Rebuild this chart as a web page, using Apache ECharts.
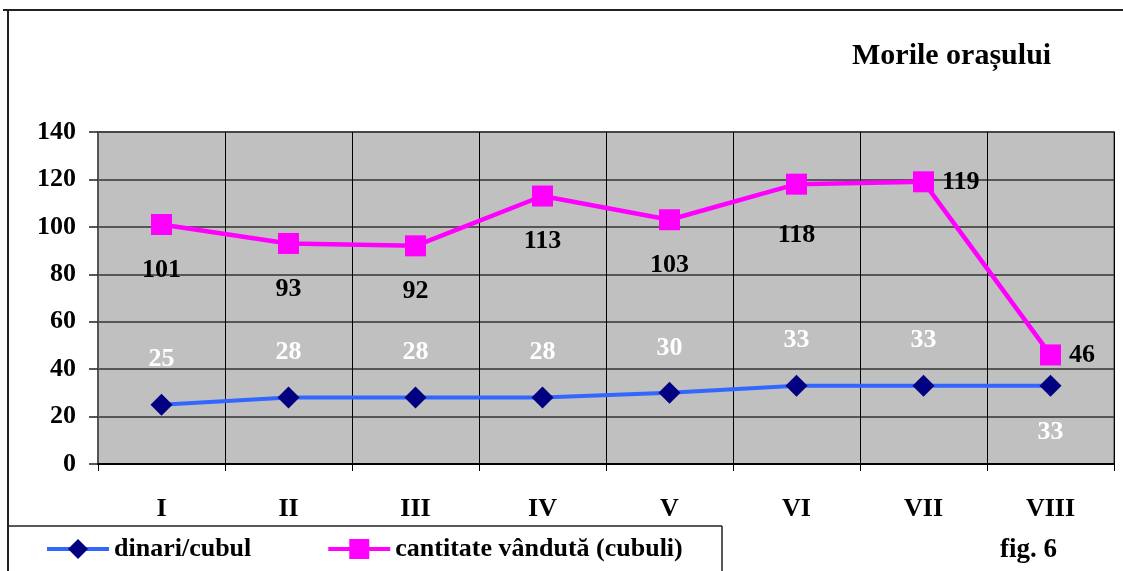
<!DOCTYPE html>
<html>
<head>
<meta charset="utf-8">
<script src="https://cdn.jsdelivr.net/npm/echarts@6/dist/echarts.min.js"></script>
<style>
html,body{margin:0;padding:0;background:#fff;}
#chart{width:1123px;height:571px;}
</style>
</head>
<body>
<div id="chart"></div>
<script>
const categories = ['I', 'II', 'III', 'IV', 'V', 'VI', 'VII', 'VIII'];
const dinariCubul = [25, 28, 28, 28, 30, 33, 33, 33];
const cantitateVanduta = [101, 93, 92, 113, 103, 118, 119, 46];
const yTicks = [0, 20, 40, 60, 80, 100, 120, 140];
const seriesNames = ['dinari/cubul', 'cantitate vândută (cubuli)'];
const titleText = 'Morile orașului';
const figText = 'fig. 6';

const FONT = "'Liberation Serif', 'Times New Roman', serif";

const blueData = dinariCubul.map((v, i) => ({
  value: v,
  label: i === dinariCubul.length - 1
    ? { position: 'bottom', distance: 23 }
    : { position: 'top', distance: 21 }
}));
const pinkData = cantitateVanduta.map((v, i) => ({
  value: v,
  label: i >= cantitateVanduta.length - 2
    ? { position: 'right', distance: 8 }
    : { position: 'bottom', distance: i === 5 ? 28 : 22 }
}));

const chart = echarts.init(document.getElementById('chart'), null, { renderer: 'canvas' });
chart.setOption({
  backgroundColor: '#ffffff',
  animation: false,
  title: {
    text: titleText,
    left: 852,
    top: 41,
    padding: 0,
    textStyle: { fontFamily: FONT, fontWeight: 'bold', fontSize: 30, color: '#000' }
  },
  legend: {
    left: 45,
    top: 536,
    padding: 0,
    itemWidth: 62,
    itemHeight: 25,
    itemGap: 75,
    data: seriesNames,
    lineStyle: { width: 4 },
    textStyle: { fontFamily: FONT, fontWeight: 'bold', fontSize: 26, color: '#000' }
  },
  grid: {
    left: 98, right: 9, top: 132, bottom: 107,
    show: true,
    backgroundColor: '#C0C0C0',
    borderColor: '#808080',
    borderWidth: 2
  },
  xAxis: {
    type: 'category',
    data: categories,
    boundaryGap: true,
    axisLine: { show: true, lineStyle: { color: '#000', width: 2 } },
    axisTick: { show: true, length: 7, lineStyle: { color: '#000', width: 1 } },
    splitLine: { show: true, lineStyle: { color: '#000', width: 1 } },
    axisLabel: { margin: 32, fontFamily: FONT, fontWeight: 'bold', fontSize: 26, color: '#000' }
  },
  yAxis: {
    type: 'value',
    min: yTicks[0],
    max: yTicks[yTicks.length - 1],
    interval: yTicks[1] - yTicks[0],
    axisLine: { show: true, lineStyle: { color: '#555', width: 2 } },
    axisTick: { show: true, length: 9, lineStyle: { color: '#222', width: 1.5 } },
    splitLine: { show: true, lineStyle: { color: '#333', width: 1.5 } },
    axisLabel: { margin: 22, fontFamily: FONT, fontWeight: 'bold', fontSize: 26, color: '#000' }
  },
  series: [
    {
      name: seriesNames[0],
      type: 'line',
      data: blueData,
      symbol: 'diamond',
      symbolSize: 22,
      lineStyle: { color: '#3366FF', width: 4 },
      itemStyle: { color: '#000080' },
      label: { show: true, fontFamily: FONT, fontWeight: 'bold', fontSize: 26, color: '#fff' },
      z: 3
    },
    {
      name: seriesNames[1],
      type: 'line',
      data: pinkData,
      symbol: 'rect',
      symbolSize: 21,
      lineStyle: { color: '#FF00FF', width: 4.5 },
      itemStyle: { color: '#FF00FF' },
      label: { show: true, fontFamily: FONT, fontWeight: 'bold', fontSize: 26, color: '#000' },
      z: 3
    }
  ],
  graphic: [
    { type: 'line', shape: { x1: 3, y1: 10, x2: 1123, y2: 10 }, style: { stroke: '#222', lineWidth: 2 } },
    { type: 'line', shape: { x1: 8, y1: 10, x2: 8, y2: 571 }, style: { stroke: '#222', lineWidth: 2 } },
    { type: 'line', shape: { x1: 8, y1: 526, x2: 722, y2: 526 }, style: { stroke: '#222', lineWidth: 1.5 } },
    { type: 'line', shape: { x1: 722, y1: 526, x2: 722, y2: 571 }, style: { stroke: '#222', lineWidth: 1.5 } },
    { type: 'text', left: 1000, top: 537, style: { text: figText, font: "bold 27px 'Liberation Serif', 'Times New Roman', serif", fill: '#000' } }
  ]
});
</script>
</body>
</html>
